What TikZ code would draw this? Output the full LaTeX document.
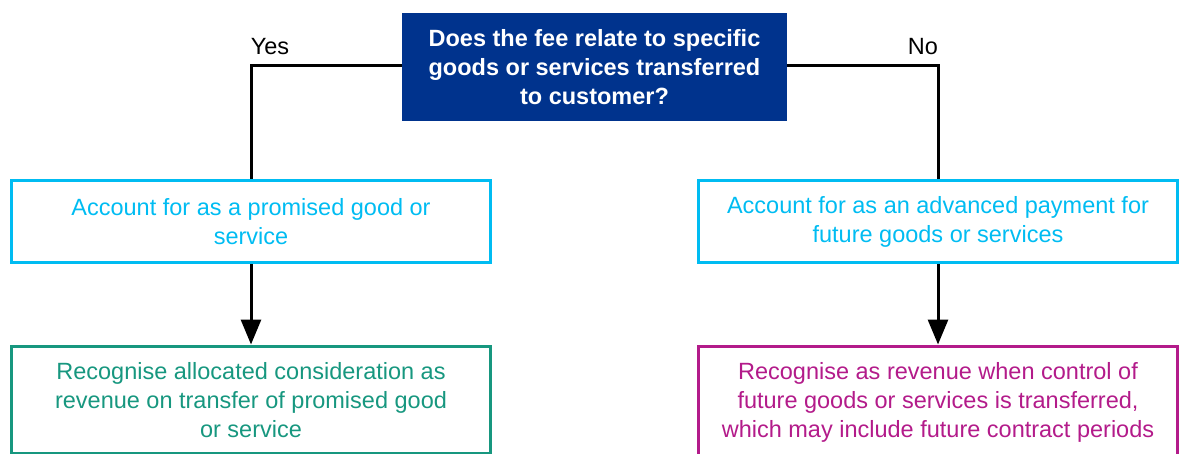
\documentclass[tikz,border=0pt]{standalone}
\usepackage{fontspec}
\setmainfont{Liberation Sans}
\usetikzlibrary{arrows.meta}
\definecolor{kblue}{HTML}{00338D}
\definecolor{kcyan}{HTML}{00BCF2}
\definecolor{kgreen}{HTML}{17977F}
\definecolor{kmag}{HTML}{B31B8A}
\tikzset{
  basefont/.style={font=\fontsize{23.5}{29}\selectfont},
  qbox/.style={fill=kblue, text=white, align=center, minimum width=385, minimum height=108, inner sep=0pt, font=\fontsize{23.5}{29}\selectfont\bfseries},
  cbox/.style={basefont, draw=kcyan, text=kcyan, line width=3.5pt, align=center, minimum width=479, minimum height=82, inner sep=0pt},
  gbox/.style={basefont, draw=#1, text=#1, line width=3.5pt, align=center, minimum width=479, anchor=north, inner xsep=0pt, inner ysep=16pt},
  conn/.style={line width=3pt, draw=black},
  arr/.style={conn, -{Triangle[width=20pt,length=25pt]}},
  lbl/.style={basefont, text=black, inner sep=0pt}
}
\begin{document}
\begin{tikzpicture}[x=1pt,y=-1pt]
\useasboundingbox (0,0) rectangle (1181,453);
\node[qbox] (q) at (594.5,67) {Does the fee relate to specific\\goods or services transferred\\to customer?};
\node[cbox] (l1) at (251,221.5) {Account for as a promised good or\\service};
\node[cbox] (r1) at (938,221.5) {Account for as an advanced payment for\\future goods or services};
\node[gbox=kgreen] (l2) at (251,344.5) {Recognise allocated consideration as\\revenue on transfer of promised good\\or service};
\node[gbox=kmag] (r2) at (938,344.5) {Recognise as revenue when control of\\future goods or services is transferred,\\which may include future contract periods};
\draw[conn] ([yshift=2pt]q.west) -| (l1.north);
\draw[conn] ([yshift=2pt]q.east) -| (r1.north);
\draw[arr] (l1.south) -- (l2.north);
\draw[arr] (r1.south) -- (r2.north);
\node[lbl] (yes) at (270,47) {Yes};
\node[lbl] (no) at (923,47) {No};
\end{tikzpicture}
\end{document}
